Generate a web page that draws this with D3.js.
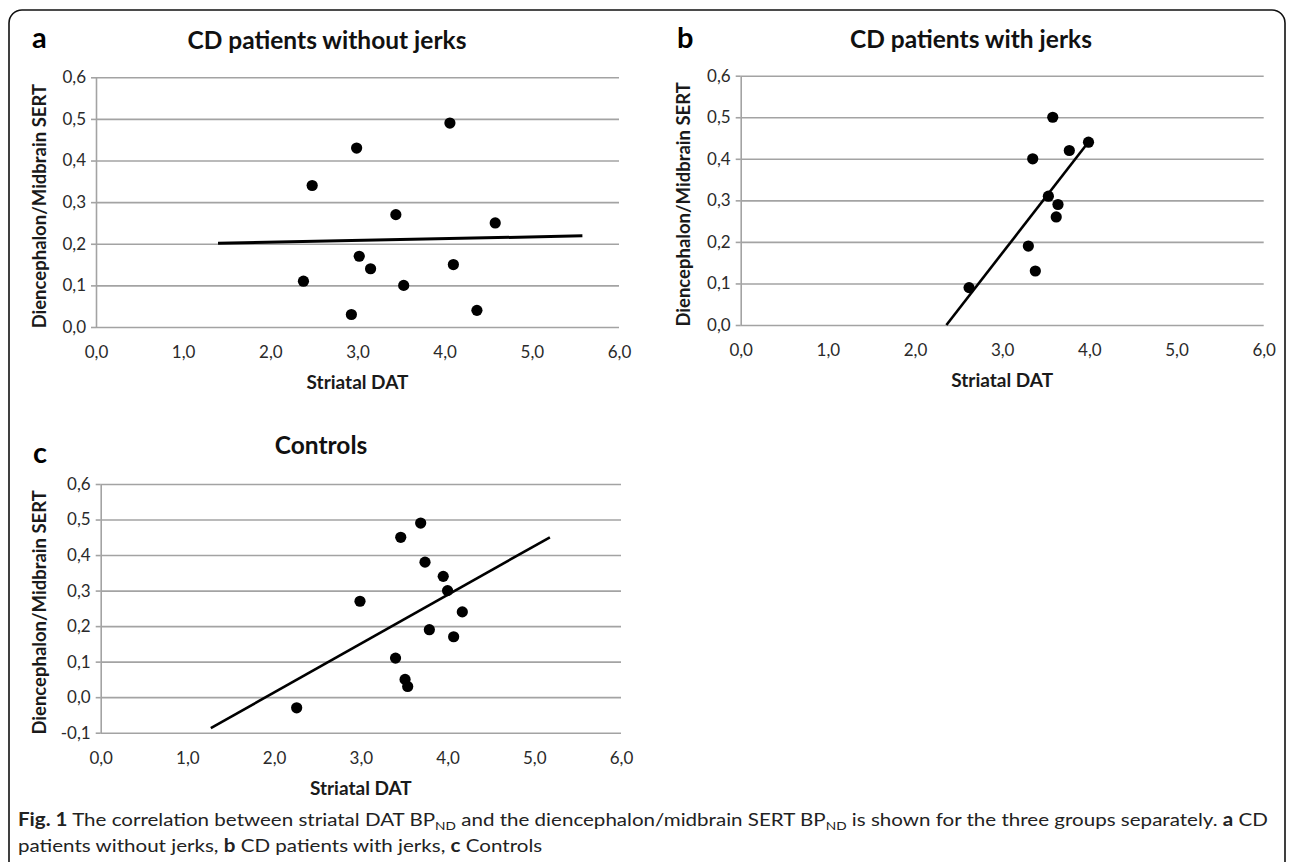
<!DOCTYPE html>
<html>
<head>
<meta charset="utf-8">
<script src="https://cdn.jsdelivr.net/npm/d3@7"></script>
<style>
  body { margin: 0; background: #fff; }
  svg text { font-family: Lato, "Open Sans", sans-serif; }
</style>
</head>
<body>
<svg id="fig" width="1292" height="862"></svg>
<script>
// tick values
const xTicks = [0, 1, 2, 3, 4, 5, 6];
const yTicksAB = [0, 0.1, 0.2, 0.3, 0.4, 0.5, 0.6];
const yTicksC = [-0.1, 0, 0.1, 0.2, 0.3, 0.4, 0.5, 0.6];

// a: CD patients without jerks
const noJerksDAT  = [4.06, 2.99, 2.48, 3.44, 4.58, 3.02, 3.15, 4.10, 2.38, 3.53, 2.93, 4.37];
const noJerksSERT = [0.49, 0.43, 0.34, 0.27, 0.25, 0.17, 0.14, 0.15, 0.11, 0.10, 0.03, 0.04];
const noJerksTrendDAT  = [1.40, 5.58];
const noJerksTrendSERT = [0.201, 0.219];

// b: CD patients with jerks
const jerksDAT  = [3.58, 3.99, 3.77, 3.35, 3.53, 3.64, 3.62, 3.30, 3.38, 2.62];
const jerksSERT = [0.50, 0.44, 0.42, 0.40, 0.31, 0.29, 0.26, 0.19, 0.13, 0.09];
const jerksTrendDAT  = [2.36, 3.97];
const jerksTrendSERT = [0.0, 0.435];

// c: controls
const controlsDAT  = [3.69, 3.46, 3.74, 3.95, 4.00, 2.99, 4.17, 3.79, 4.07, 3.40, 3.51, 3.54, 2.26];
const controlsSERT = [0.49, 0.45, 0.38, 0.34, 0.30, 0.27, 0.24, 0.19, 0.17, 0.11, 0.05, 0.03, -0.03];
const controlsTrendDAT  = [1.27, 5.18];
const controlsTrendSERT = [-0.087, 0.450];

const svg = d3.select("#fig");
const fmt = v => d3.format(".1f")(v).replace(".", ",").replace("−", "-");

// outer frame
svg.append("rect")
  .attr("x", 9).attr("y", 10)
  .attr("width", 1276).attr("height", 920)
  .attr("rx", 13)
  .attr("fill", "none")
  .attr("stroke", "#111")
  .attr("stroke-width", 1.6);

const panels = [
  { letter: "a", title: "CD patients without jerks", left: 96, right: 619, top: 77.3, bottom: 327,
    letterX: 32, letterY: 48, titleX: 327, titleY: 49, ylabX: 40, yTicks: yTicksAB,
    xs: noJerksDAT, ys: noJerksSERT, tx: noJerksTrendDAT, ty: noJerksTrendSERT, lw: 3 },
  { letter: "b", title: "CD patients with jerks", left: 740.7, right: 1263.7, top: 75.7, bottom: 325,
    letterX: 677, letterY: 48, titleX: 971, titleY: 48, ylabX: 684, yTicks: yTicksAB,
    xs: jerksDAT, ys: jerksSERT, tx: jerksTrendDAT, ty: jerksTrendSERT, lw: 2.6 },
  { letter: "c", title: "Controls", left: 100.7, right: 621, top: 484, bottom: 732.7,
    letterX: 33, letterY: 463, titleX: 321, titleY: 454, ylabX: 40, yTicks: yTicksC,
    xs: controlsDAT, ys: controlsSERT, tx: controlsTrendDAT, ty: controlsTrendSERT, lw: 2.6 }
];

panels.forEach(p => {
  let g = svg.append("g");
  let x = d3.scaleLinear().domain([0, 6]).range([p.left, p.right]);
  let y = d3.scaleLinear().domain(d3.extent(p.yTicks)).range([p.bottom, p.top]);
  let w = p.right - p.left;

  // gridlines
  g.append("g")
    .attr("transform", `translate(${p.left},0)`)
    .call(d3.axisLeft(y).tickValues(p.yTicks).tickSize(-w).tickFormat(""))
    .call(s => s.select(".domain").remove())
    .selectAll("line").attr("stroke", "#a3a3a3").attr("stroke-width", 1.6);

  // y axis with ticks and labels
  g.append("g")
    .attr("transform", `translate(${p.left},0)`)
    .call(d3.axisLeft(y).tickValues(p.yTicks).tickSize(5).tickSizeOuter(0).tickPadding(5).tickFormat(fmt))
    .call(s => s.select(".domain").attr("stroke", "#a3a3a3").attr("stroke-width", 1.6))
    .call(s => s.selectAll("line").attr("stroke", "#a3a3a3").attr("stroke-width", 1.6))
    .call(s => s.selectAll("text").attr("font-family", "Lato").attr("font-size", 17).attr("fill", "#2a2a2a"));

  // x axis labels
  g.append("g")
    .attr("transform", `translate(0,${p.bottom})`)
    .call(d3.axisBottom(x).tickValues(xTicks).tickSize(0).tickPadding(19).tickFormat(fmt))
    .call(s => s.select(".domain").remove())
    .call(s => s.selectAll("text").attr("font-family", "Lato").attr("font-size", 17).attr("fill", "#2a2a2a"));

  // axis titles
  g.append("text")
    .attr("x", (p.left + p.right) / 2).attr("y", p.bottom + 62)
    .attr("text-anchor", "middle")
    .attr("font-size", 19).attr("font-weight", "bold").attr("fill", "#1a1a1a")
    .text("Striatal DAT");
  g.append("text")
    .attr("transform", `translate(${p.ylabX},${(p.top + p.bottom) / 2 + 4}) rotate(-90)`)
    .attr("dy", "0.35em")
    .attr("text-anchor", "middle")
    .attr("font-size", 18.5).attr("font-weight", "bold").attr("fill", "#1a1a1a")
    .text("Diencephalon/Midbrain SERT");

  // chart title + panel letter
  g.append("text")
    .attr("x", p.titleX).attr("y", p.titleY)
    .attr("text-anchor", "middle")
    .attr("font-size", 24.5).attr("font-weight", "bold").attr("fill", "#111")
    .text(p.title);
  g.append("text")
    .attr("x", p.letterX).attr("y", p.letterY)
    .attr("font-family", "'Liberation Sans', Arial, sans-serif")
    .attr("font-size", 29).attr("font-weight", "bold").attr("fill", "#000")
    .text(p.letter);

  // trend line
  let line = d3.line().x(d => x(d[0])).y(d => y(d[1]));
  g.append("path")
    .datum(d3.zip(p.tx, p.ty))
    .attr("d", line)
    .attr("fill", "none")
    .attr("stroke", "#000")
    .attr("stroke-width", p.lw);

  // points
  g.selectAll("circle")
    .data(d3.zip(p.xs, p.ys))
    .join("circle")
    .attr("cx", d => x(d[0]))
    .attr("cy", d => y(d[1]))
    .attr("r", 5.6)
    .attr("fill", "#000");
});

// caption
const cap = svg.append("g").attr("transform", "translate(18,0)");
const capFont = "'Open Sans', sans-serif";
let l1 = cap.append("text").attr("y", 826).attr("font-family", capFont).attr("font-size", 18).attr("fill", "#222");
function part(t, txt, bold, sub) {
  let s = t.append("tspan").text(txt);
  if (bold) s.attr("font-weight", "bold");
  if (sub) s.attr("font-size", 12).attr("dy", 4);
  return s;
}
part(l1, "Fig. 1", true);
part(l1, " The correlation between striatal DAT BP");
part(l1, "ND", false, true);
part(l1, " and the diencephalon/midbrain SERT BP").attr("dy", -4);
part(l1, "ND", false, true);
part(l1, " is shown for the three groups separately. ").attr("dy", -4);
part(l1, "a", true);
part(l1, " CD");

let l2 = cap.append("text").attr("y", 852).attr("font-family", capFont).attr("font-size", 18).attr("fill", "#222");
part(l2, "patients without jerks, ");
part(l2, "b", true);
part(l2, " CD patients with jerks, ");
part(l2, "c", true);
part(l2, " Controls");

// squeeze caption to the condensed width of the original
let sx = 1251 / l1.node().getComputedTextLength();
l1.attr("transform", `scale(${sx},1)`);
l2.attr("transform", `scale(${sx},1)`);
</script>
</body>
</html>
